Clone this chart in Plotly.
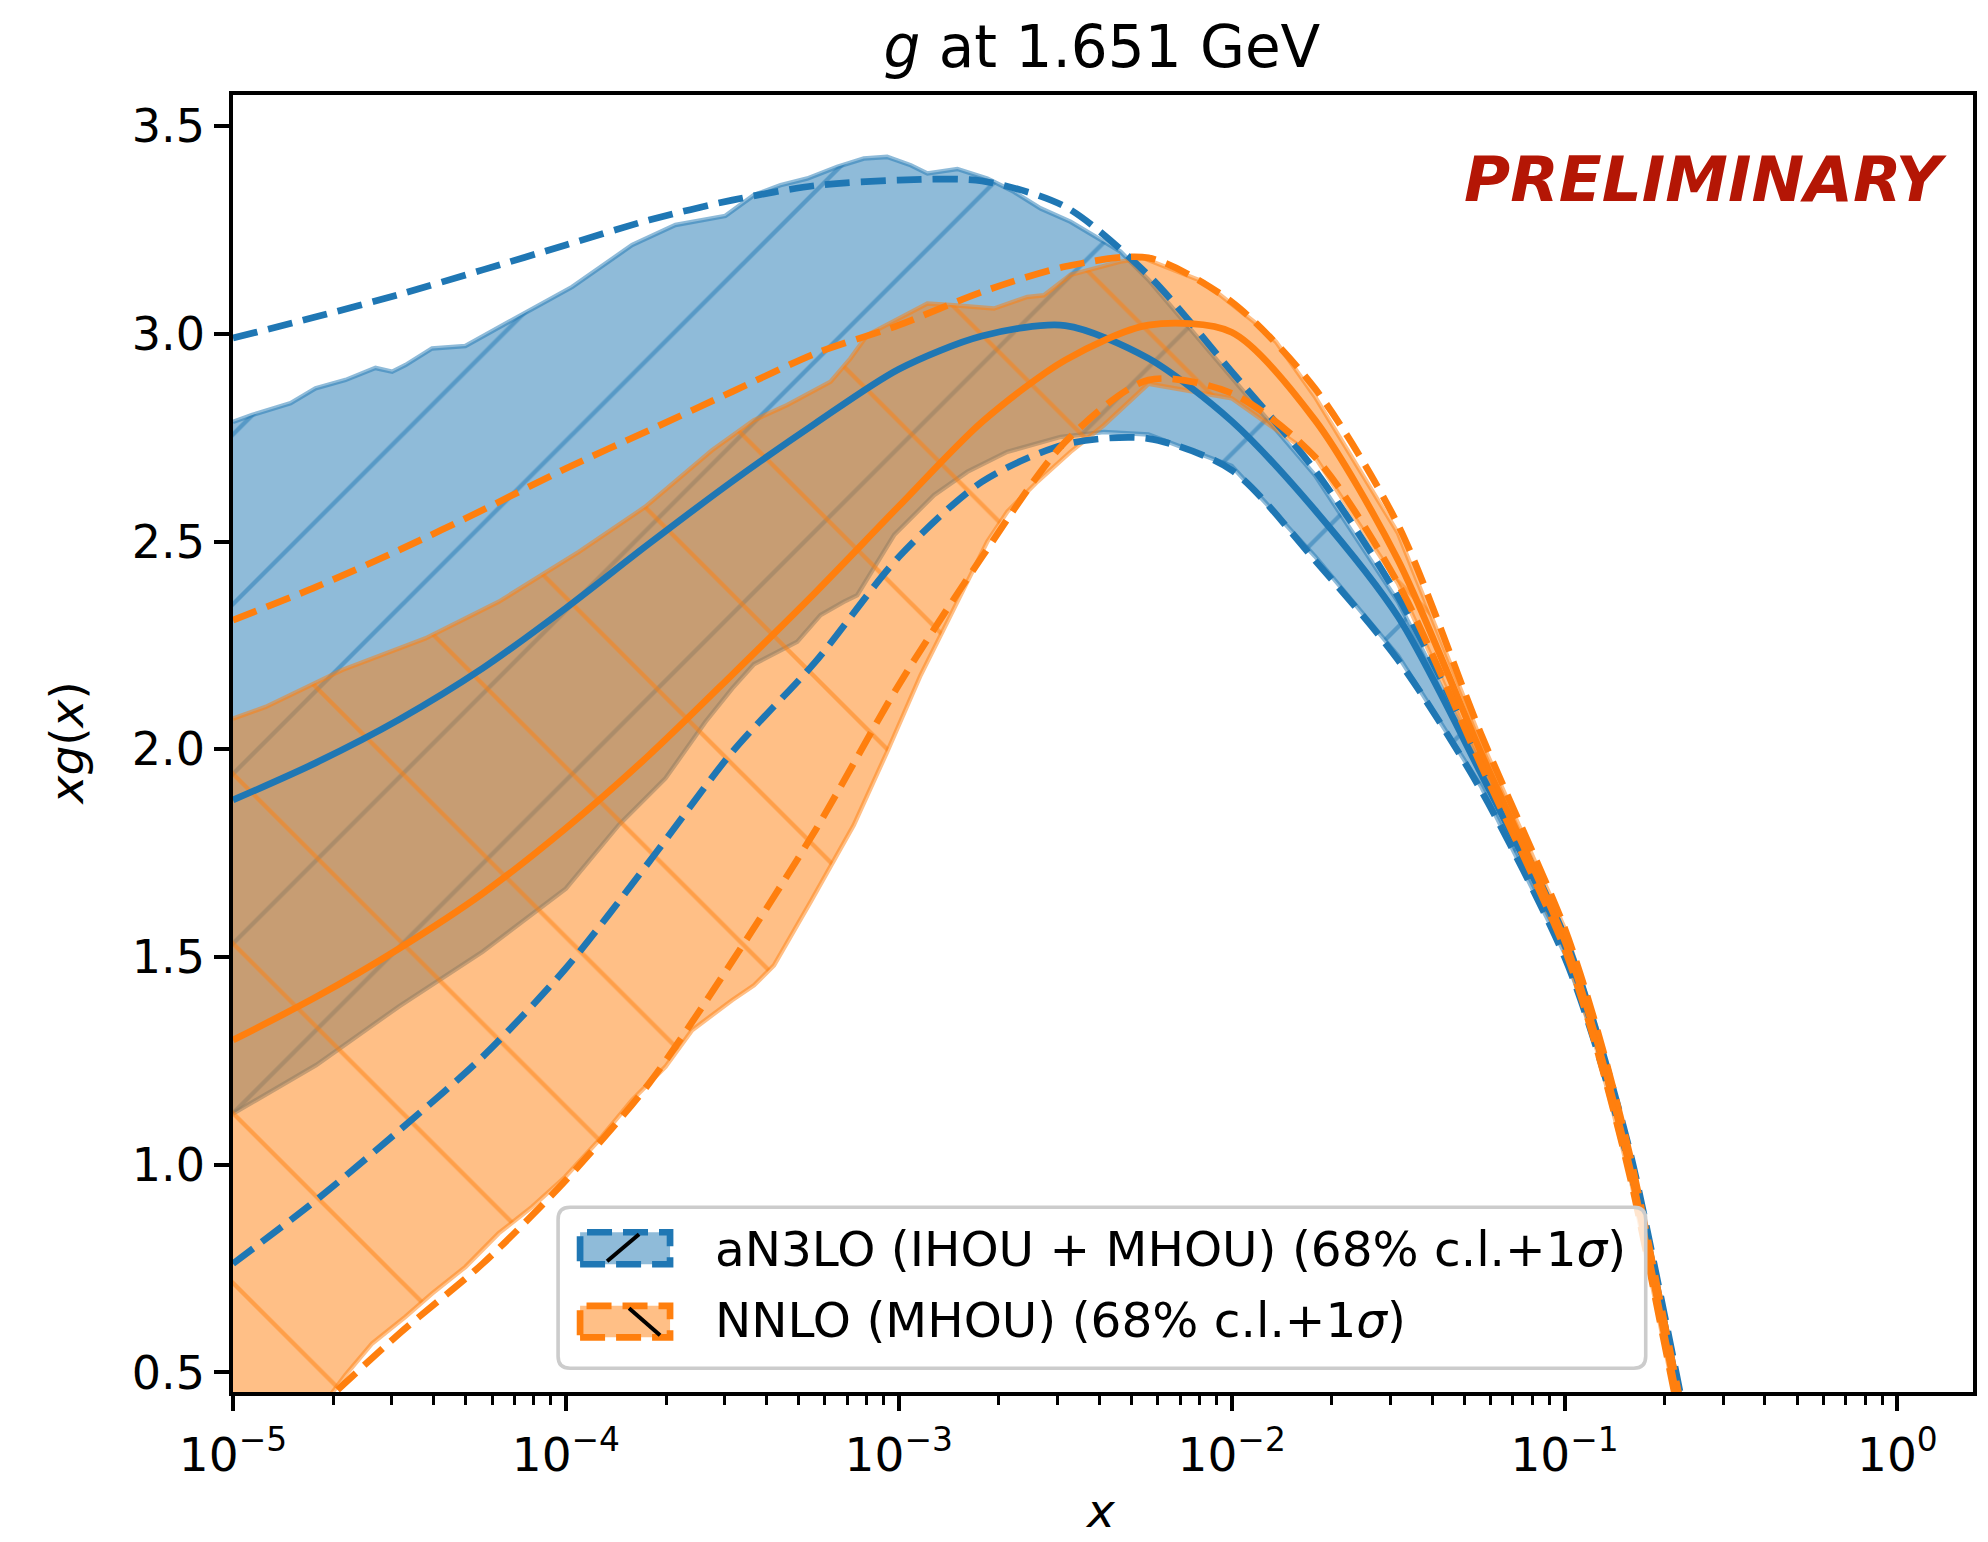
import plotly.graph_objects as go

# ---------------- data ----------------
# x positions are stored as log10(x)
LOGX_LINES = [-5, -4.75, -4.5, -4.25, -4, -3.75, -3.5, -3.25, -3, -2.75, -2.5,
              -2.25, -2, -1.75, -1.5, -1.25, -1, -0.9, -0.8, -0.7, -0.6]

N3LO_CENTRAL = [1.878, 1.968, 2.072, 2.195, 2.340, 2.495, 2.645, 2.785, 2.915, 2.995, 3.020,
                2.941, 2.790, 2.576, 2.319, 1.940, 1.530, 1.290, 1.000, 0.620, 0.220]
N3LO_SIGMA_UP = [2.990, 3.041, 3.095, 3.154, 3.214, 3.274, 3.322, 3.357, 3.370, 3.368, 3.306,
                 3.141, 2.909, 2.672, 2.367, 1.970, 1.550, 1.310, 1.020, 0.640, 0.240]
N3LO_SIGMA_DN = [0.762, 0.915, 1.083, 1.260, 1.473, 1.729, 1.994, 2.211, 2.463, 2.644, 2.734,
                 2.748, 2.672, 2.455, 2.215, 1.900, 1.500, 1.270, 0.980, 0.600, 0.200]

NNLO_CENTRAL = [1.300, 1.404, 1.521, 1.653, 1.810, 1.986, 2.180, 2.378, 2.585, 2.788, 2.937,
                3.021, 3.004, 2.793, 2.455, 1.990, 1.540, 1.290, 0.980, 0.590, 0.190]
NNLO_SIGMA_UP = [2.311, 2.391, 2.480, 2.576, 2.676, 2.768, 2.861, 2.953, 3.021, 3.101, 3.162,
                 3.183, 3.077, 2.869, 2.540, 2.035, 1.570, 1.320, 1.010, 0.620, 0.220]
NNLO_SIGMA_DN = [0.220, 0.410, 0.594, 0.762, 0.963, 1.196, 1.490, 1.806, 2.155, 2.463, 2.740,
                 2.889, 2.857, 2.704, 2.399, 1.960, 1.520, 1.270, 0.960, 0.570, 0.170]

# 68% c.l. band edges (jagged)
N3LO_CL_UP_LOGX = [-5, -4.942, -4.827, -4.752, -4.662, -4.572, -4.522, -4.482, -4.402, -4.302,
                   -4.171, -3.981, -3.801, -3.671, -3.521, -3.435, -3.355, -3.275, -3.185,
                   -3.105, -3.035, -2.964, -2.914, -2.824, -2.734, -2.654, -2.574, -2.484,
                   -2.334, -2.25, -2.0, -1.75, -1.5, -1.25, -1.0, -0.9, -0.8, -0.7, -0.6]
N3LO_CL_UP = [2.788, 2.805, 2.833, 2.869, 2.889, 2.918, 2.909, 2.925, 2.965, 2.971,
              3.029, 3.113, 3.214, 3.262, 3.284, 3.334, 3.358, 3.374, 3.402,
              3.422, 3.426, 3.406, 3.386, 3.397, 3.374, 3.342, 3.302, 3.270,
              3.198, 3.130, 2.895, 2.660, 2.355, 1.960, 1.540, 1.300, 1.010, 0.630, 0.230]
N3LO_CL_DN_LOGX = [-5, -4.75, -4.5, -4.25, -4, -3.841, -3.701, -3.581, -3.5, -3.435, -3.305,
                   -3.235, -3.165, -3.125, -3.014, -2.894, -2.794, -2.674, -2.514, -2.384,
                   -2.25, -2.0, -1.75, -1.5, -1.25, -1.0, -0.9, -0.8, -0.7, -0.6]
N3LO_CL_DN = [1.123, 1.240, 1.382, 1.513, 1.665, 1.818, 1.930, 2.066, 2.147, 2.205, 2.259,
              2.323, 2.355, 2.371, 2.516, 2.612, 2.668, 2.716, 2.752, 2.764,
              2.758, 2.682, 2.465, 2.225, 1.910, 1.510, 1.280, 0.990, 0.610, 0.210]

NNLO_CL_UP_LOGX = [-5, -4.902, -4.672, -4.422, -4.202, -3.961, -3.761, -3.561, -3.435, -3.335,
                   -3.205, -3.145, -3.095, -2.914, -2.834, -2.714, -2.614, -2.564, -2.484,
                   -2.334, -2.264, -2.084, -1.933, -1.867, -1.75, -1.5, -1.25, -1.0, -0.9,
                   -0.8, -0.7, -0.6]
NNLO_CL_UP = [2.074, 2.102, 2.191, 2.267, 2.355, 2.475, 2.584, 2.720, 2.792, 2.829,
              2.885, 2.941, 2.997, 3.073, 3.069, 3.061, 3.089, 3.093, 3.142,
              3.174, 3.182, 3.125, 3.029, 2.981, 2.849, 2.520, 2.020, 1.570, 1.320,
              1.000, 0.610, 0.210]
NNLO_CL_DN_LOGX = [-5, -4.75, -4.662, -4.582, -4.482, -4.402, -4.302, -4.202, -4.101, -4.002,
                   -3.901, -3.801, -3.701, -3.621, -3.501, -3.435, -3.375, -3.265, -3.135,
                   -3.035, -2.934, -2.854, -2.734, -2.674, -2.584, -2.484, -2.384, -2.25,
                   -2.0, -1.75, -1.5, -1.25, -1.0, -0.9, -0.8, -0.7, -0.6]
NNLO_CL_DN = [0.220, 0.400, 0.494, 0.570, 0.634, 0.690, 0.754, 0.835, 0.899, 0.971,
              1.059, 1.156, 1.236, 1.324, 1.396, 1.432, 1.480, 1.633, 1.818,
              1.994, 2.179, 2.307, 2.500, 2.572, 2.644, 2.716, 2.780, 2.880,
              2.845, 2.704, 2.399, 1.960, 1.520, 1.270, 0.960, 0.570, 0.170]

X_TICK_VALS = [1e-5, 1e-4, 1e-3, 1e-2, 1e-1, 1e0]
X_TICK_TEXT = ["10<sup>\u22125</sup>", "10<sup>\u22124</sup>", "10<sup>\u22123</sup>",
               "10<sup>\u22122</sup>", "10<sup>\u22121</sup>", "10<sup>0</sup>"]
Y_TICK_VALS = [0.5, 1.0, 1.5, 2.0, 2.5, 3.0, 3.5]
Y_TICK_TEXT = ["0.5", "1.0", "1.5", "2.0", "2.5", "3.0", "3.5"]

LABEL_N3LO = "aN3LO (IHOU + MHOU) (68% c.l.+1<i>\u03c3</i>)"
LABEL_NNLO = "NNLO (MHOU) (68% c.l.+1<i>\u03c3</i>)"

# ---------------- styling ----------------
BLUE = "#1f77b4"
ORANGE = "#ff7f0e"
BLUE_A = "rgba(31,119,180,0.5)"
ORANGE_A = "rgba(255,127,14,0.5)"
FONT = "DejaVu Sans"
LW = 6.7
DASH = "25px,11px"

OFF = 8                       # default page body margin
W, H = 1988 - OFF, 1542 - OFF
PL, PR, PT, PB = 232.8, 1973.4, 95.0, 1391.7   # plot area in page pixels


def to_x(logs):
    return [10 ** v for v in logs]


def px(X):
    return (X - PL) / (PR - PL)


def py(Y):
    return (PB - Y) / (PB - PT)


fig = go.Figure()


def band(up_logx, up, dn_logx, dn, color_a, shape):
    xs = to_x(up_logx) + to_x(dn_logx)[::-1]
    ys = list(up) + list(dn)[::-1]
    fig.add_trace(go.Scatter(
        x=xs, y=ys, mode="lines", fill="toself", fillcolor=color_a,
        fillpattern=dict(shape=shape, size=120, solidity=0.036, fgcolor=color_a,
                         bgcolor=color_a, fgopacity=1),
        line=dict(color=color_a, width=4.5), showlegend=False, hoverinfo="skip"))


band(N3LO_CL_UP_LOGX, N3LO_CL_UP, N3LO_CL_DN_LOGX, N3LO_CL_DN, BLUE_A, "/")
band(NNLO_CL_UP_LOGX, NNLO_CL_UP, NNLO_CL_DN_LOGX, NNLO_CL_DN, ORANGE_A, "\\")

xl = to_x(LOGX_LINES)
for ys, col, dash in [(N3LO_CENTRAL, BLUE, "solid"), (N3LO_SIGMA_UP, BLUE, DASH),
                      (N3LO_SIGMA_DN, BLUE, DASH), (NNLO_CENTRAL, ORANGE, "solid"),
                      (NNLO_SIGMA_UP, ORANGE, DASH), (NNLO_SIGMA_DN, ORANGE, DASH)]:
    fig.add_trace(go.Scatter(x=xl, y=ys, mode="lines",
                             line=dict(color=col, width=LW, dash=dash, shape="spline",
                                       smoothing=0.8),
                             showlegend=False, hoverinfo="skip"))

minor_vals = [k * 10 ** e for e in range(-5, 0) for k in range(2, 10)]

fig.update_xaxes(type="log", range=[-5, 0.227], automargin=False, showline=True,
                 linecolor="black", linewidth=3.6, mirror=True, ticks="outside", ticklen=15,
                 tickwidth=3.6, tickcolor="black", tickmode="array", tickvals=X_TICK_VALS,
                 ticktext=X_TICK_TEXT, tickfont=dict(family=FONT, size=47, color="black"),
                 ticklabelstandoff=4,
                 showgrid=False, zeroline=False,
                 minor=dict(ticks="outside", ticklen=9, tickwidth=2.7, tickcolor="black",
                            tickmode="array", tickvals=minor_vals, showgrid=False))
fig.update_yaxes(range=[0.453, 3.575], automargin=False, showline=True, linecolor="black",
                 linewidth=3.6, mirror=True, ticks="outside", ticklen=15, tickwidth=3.6,
                 tickcolor="black", tickmode="array", tickvals=Y_TICK_VALS,
                 ticktext=Y_TICK_TEXT, tickfont=dict(family=FONT, size=46, color="black"),
                 showgrid=False, zeroline=False)

# legend drawn by hand (matplotlib-like patches)
def rrect(x0, y0, x1, y1, r):
    return (f"M {px(x0 + r)},{py(y0)} L {px(x1 - r)},{py(y0)} Q {px(x1)},{py(y0)} {px(x1)},{py(y0 + r)} "
            f"L {px(x1)},{py(y1 - r)} Q {px(x1)},{py(y1)} {px(x1 - r)},{py(y1)} "
            f"L {px(x0 + r)},{py(y1)} Q {px(x0)},{py(y1)} {px(x0)},{py(y1 - r)} "
            f"L {px(x0)},{py(y0 + r)} Q {px(x0)},{py(y0)} {px(x0 + r)},{py(y0)} Z")

shapes = [
    dict(type="path", xref="paper", yref="paper", path=rrect(558, 1207, 1646, 1368, 12),
         fillcolor="rgba(255,255,255,0.8)", line=dict(color="rgb(204,204,204)", width=3.6),
         layer="above"),
]
for (y0, y1, fill, col, hatch) in [
    (1232, 1264, BLUE_A, BLUE, ((607, 1261), (639, 1234))),
    (1305.5, 1337, ORANGE_A, ORANGE, ((629, 1308), (660, 1335))),
]:
    shapes.append(dict(type="rect", xref="paper", yref="paper", x0=px(580), x1=px(670),
                       y0=py(y1), y1=py(y0), fillcolor=fill,
                       line=dict(color=col, width=LW, dash=DASH), layer="above"))
    shapes.append(dict(type="line", xref="paper", yref="paper", x0=px(hatch[0][0]),
                       y0=py(hatch[0][1]), x1=px(hatch[1][0]), y1=py(hatch[1][1]),
                       line=dict(color="black", width=4), layer="above"))

annotations = [
    dict(text=LABEL_N3LO, xref="paper", yref="paper", x=px(713), y=py(1249), xanchor="left",
         yanchor="middle", showarrow=False, font=dict(family=FONT, size=48.5, color="black")),
    dict(text=LABEL_NNLO, xref="paper", yref="paper", x=px(713), y=py(1320), xanchor="left",
         yanchor="middle", showarrow=False, font=dict(family=FONT, size=48.5, color="black")),
    dict(text="<b><i>PRELIMINARY</i></b>", xref="paper", yref="paper", x=px(1949),
         y=py(179), xanchor="right", yanchor="middle", showarrow=False,
         font=dict(family=FONT, size=63, color="rgb(180,22,5)")),
    # axis titles
    dict(text="<i>x</i>", xref="paper", yref="paper", x=px(1101), y=py(1540),
         xanchor="center", yanchor="bottom", showarrow=False,
         font=dict(family=FONT, size=47, color="black")),
    dict(text="<i>xg</i>(<i>x</i>)", xref="paper", yref="paper", x=px(66), y=py(743),
         xanchor="center", yanchor="middle", textangle=-90, showarrow=False,
         font=dict(family=FONT, size=47, color="black")),
]

fig.update_layout(
    width=W, height=H, paper_bgcolor="white", plot_bgcolor="white",
    margin=dict(l=PL - OFF, r=W - (PR - OFF), t=PT - OFF, b=H - (PB - OFF), pad=0,
                autoexpand=False),
    title=dict(text="<i>g</i> at 1.651 GeV", x=px(1102), xref="paper", xanchor="center",
               y=1 - (47 - OFF) / H, yref="container", yanchor="middle",
               font=dict(family=FONT, size=58, color="black")),
    shapes=shapes, annotations=annotations, showlegend=False,
)

fig.write_html("out.html")
